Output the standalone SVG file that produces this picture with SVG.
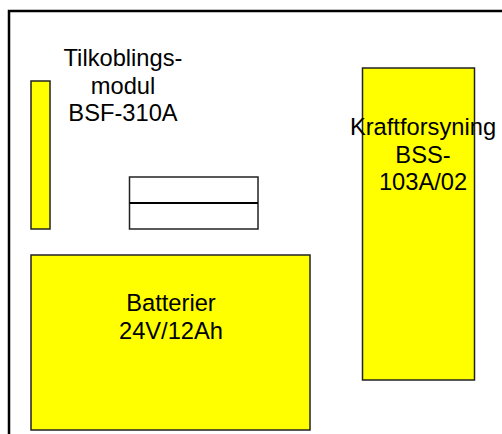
<svg xmlns="http://www.w3.org/2000/svg" width="502" height="434" viewBox="0 0 502 434">
<style>
.box{fill:#ffff00;stroke:#222;stroke-width:1.5}
.frame{fill:none;stroke:#000;stroke-width:2.5}
.wbox{fill:#fff;stroke:#222;stroke-width:1.5}
text{font-family:"Liberation Sans",Arial,sans-serif;font-size:23.7px;fill:#000;text-anchor:middle}
</style>
<rect class="frame" x="9" y="11" width="520" height="450"/>
<g id="tilkoblingsmodul">
<rect class="box" x="31" y="81" width="19" height="148"/>
<text x="123" y="66">Tilkoblings-</text>
<text x="123" y="93.5">modul</text>
<text x="123" y="121">BSF-310A</text>
</g>
<g id="sikringer">
<rect class="wbox" x="129.5" y="177" width="128.5" height="52"/>
<line x1="129.5" y1="203" x2="258" y2="203" stroke="#000" stroke-width="2"/>
</g>
<g id="kraftforsyning">
<rect class="box" x="362.5" y="68" width="112" height="312"/>
<text x="423" y="135">Kraftforsyning</text>
<text x="423" y="163">BSS-</text>
<text x="423" y="189.5">103A/02</text>
</g>
<g id="batterier">
<rect class="box" x="31" y="255" width="279" height="175"/>
<text x="171" y="311">Batterier</text>
<text x="171" y="339">24V/12Ah</text>
</g>
<g id="connectors"/>
</svg>
